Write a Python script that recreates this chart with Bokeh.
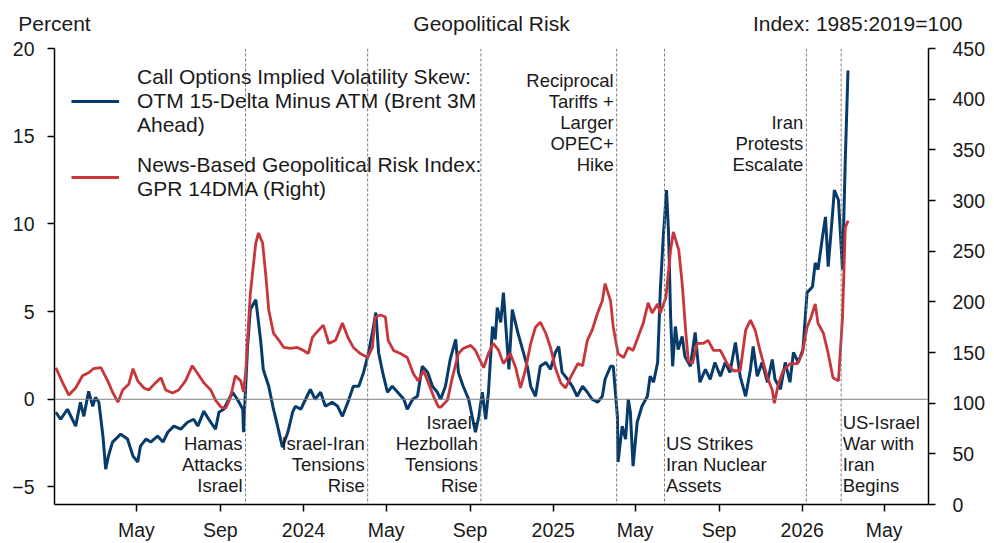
import pandas as pd
from bokeh.plotting import figure
from bokeh.models import (Range1d, LinearAxis, FixedTicker, Span, Label,
                          Legend, LegendItem, ColumnDataSource)
from bokeh.embed import file_html
from bokeh.resources import INLINE

BASE = pd.Timestamp("2023-01-01")

# Call options implied volatility skew (percent), x = days since 2023-01-01
skew_days = [2, 9, 19, 31, 38, 43, 50, 56, 60, 65, 71, 75, 79, 85, 97, 107, 115, 122, 126, 134,
             141, 151, 159, 166, 175, 185, 195, 204, 210, 219, 226, 236, 241, 248, 261, 268, 276, 277,
             283, 287, 295, 298, 302, 306, 314, 320, 327, 334, 342, 349, 353, 361, 368, 375, 382, 390,
             397, 407, 415, 422, 430, 438, 446, 453, 459, 466, 471, 475, 481, 488, 495, 503, 512, 517,
             525, 532, 539, 547, 554, 561, 566, 573, 580, 588, 592, 599, 607, 613, 617, 622, 627, 632,
             636, 642, 646, 649, 654, 658, 666, 671, 679, 686, 693, 698, 705, 712, 720, 727, 734, 739,
             744, 752, 759, 766, 774, 781, 788, 796, 803, 807, 815, 819, 825, 826, 832, 837, 841, 844,
             848, 854, 861, 869, 873, 878, 884, 888, 892, 897, 900, 903, 906, 910, 914, 920, 924, 932,
             939, 946, 954, 961, 968, 976, 983, 990, 998, 1005, 1013, 1020, 1024, 1030, 1037, 1045,
             1052, 1056, 1064, 1071, 1078, 1083, 1090, 1097, 1103, 1111, 1115, 1119, 1125, 1130, 1134,
             1140, 1143, 1149, 1155, 1159, 1163]
skew_vals = [-0.74, -1.14, -0.57, -1.53, -0.17, -0.97, 0.45, -0.40, 0.11, -0.17, -2.10, -3.98, -3.24,
             -2.44, -1.99, -2.27, -3.24, -3.58, -2.67, -2.27, -2.44, -2.10, -2.44, -1.88, -1.53, -1.70,
             -1.31, -1.14, -1.53, -0.68, -1.14, -1.70, -0.74, -0.57, 0.40, 0.00, -0.57, -1.88, 3.01,
             5.11, 5.68, 4.72, 3.41, 1.70, 0.74, -0.40, -1.53, -2.73, -1.88, -0.74, -0.40, -0.57, 0.00,
             0.57, 0.00, 0.40, -0.40, -0.17, -0.40, -0.97, -0.17, 0.74, 0.74, 1.53, 2.44, 3.81, 4.94,
             2.67, 1.53, 0.40, 0.74, 0.40, 0.00, -0.57, 0.00, 0.17, 1.88, 1.53, 0.74, 0.40, 0.00, 0.74,
             2.27, 3.41, 1.53, 0.74, 0.00, -1.14, -1.88, -0.97, 0.40, -1.14, 0.40, 4.15, 3.41, 5.23,
             4.38, 6.08, 1.70, 5.11, 3.81, 2.84, 1.88, 0.74, 0.17, 1.88, 2.10, 1.70, 2.67, 3.01, 1.53,
             1.14, 0.74, 0.17, 0.74, 0.40, 0.00, -0.17, 0.17, 1.14, 1.88, 1.88, -0.97, -3.58, -1.53,
             -2.27, 0.00, -0.74, -3.81, -1.31, -0.40, 0.17, 1.31, 0.97, 2.10, 6.25, 9.09, 11.93, 9.49,
             4.72, 1.88, 4.15, 2.84, 3.58, 2.44, 1.88, 3.81, 0.97, 1.70, 1.14, 2.10, 1.31, 2.10, 1.53,
             3.24, 1.31, 0.17, 1.70, 3.01, 1.31, 2.10, 0.97, 2.27, 1.14, 0.57, 2.10, 0.97, 2.67, 2.10,
             2.84, 6.08, 6.42, 7.78, 7.39, 9.09, 10.40, 7.56, 10.40, 11.93, 11.36, 7.39, 13.6, 18.75]

# News-based geopolitical risk index, GPR 14DMA (right axis), x = days since 2023-01-01
gpr_days = [2, 12, 21, 31, 41, 50, 57, 68, 78, 85, 93, 100, 109, 115, 122, 131, 138, 148, 156, 163,
            173, 182, 192, 202, 210, 219, 229, 236, 244, 251, 258, 265, 273, 277, 280, 287, 295, 299,
            305, 310, 314, 321, 329, 336, 346, 356, 365, 372, 378, 387, 394, 402, 412, 422, 430, 438,
            448, 459, 466, 470, 478, 485, 489, 497, 507, 517, 526, 533, 541, 548, 556, 563, 566, 576,
            583, 592, 599, 610, 617, 624, 629, 636, 643, 651, 658, 668, 676, 683, 690, 698, 705, 712,
            720, 727, 734, 742, 749, 756, 767, 774, 781, 788, 796, 803, 807, 815, 819, 826, 834, 841,
            848, 859, 863, 870, 876, 884, 888, 896, 903, 907, 915, 920, 925, 929, 935, 942, 951, 958,
            966, 976, 986, 995, 1005, 1013, 1020, 1027, 1034, 1045, 1052, 1055, 1061, 1068, 1078,
            1089, 1096, 1103, 1109, 1115, 1119, 1127, 1134, 1141, 1149, 1155, 1159, 1163]
gpr_vals = [135, 120, 108, 115, 127, 130, 134, 135, 122, 111, 101, 113, 119, 134, 122, 115, 113, 120,
            125, 113, 110, 113, 122, 137, 129, 120, 113, 103, 96, 95, 106, 127, 122, 111, 129, 208,
            258, 268, 258, 224, 192, 169, 162, 155, 154, 155, 152, 149, 165, 172, 177, 159, 162, 179,
            165, 155, 149, 145, 155, 185, 187, 185, 162, 152, 149, 145, 129, 122, 132, 120, 106, 96,
            96, 103, 125, 149, 154, 157, 152, 142, 135, 149, 159, 152, 139, 149, 135, 115, 132, 159,
            175, 180, 169, 155, 135, 120, 115, 125, 139, 137, 162, 172, 189, 201, 218, 201, 175, 149,
            145, 155, 152, 172, 179, 199, 189, 198, 189, 204, 251, 269, 251, 218, 172, 142, 139, 159,
            159, 162, 152, 152, 139, 132, 132, 172, 182, 172, 152, 125, 113, 100, 119, 132, 139, 139,
            149, 175, 185, 198, 179, 169, 149, 125, 122, 185, 273, 280]

event_dates = ["2023-10-08", "2024-04-04", "2024-09-17", "2025-04-04", "2025-06-13",
               "2026-01-07", "2026-02-27"]
event_labels = ["Hamas\nAttacks\nIsrael", "Israel-Iran\nTensions\nRise",
                "Israel-\nHezbollah\nTensions\nRise", "Reciprocal\nTariffs +\nLarger\nOPEC+\nHike",
                "US Strikes\nIran Nuclear\nAssets", "Iran\nProtests\nEscalate",
                "US-Israel\nWar with\nIran\nBegins"]
event_side = ["left", "left", "left", "left", "right", "left", "right"]
event_vpos = ["bottom", "bottom", "bottom", "top", "bottom", "top2", "bottom"]

tick_dates = ["2023-05-01", "2023-09-01", "2024-01-01", "2024-05-01", "2024-09-01",
              "2025-01-01", "2025-05-01", "2025-09-01", "2026-01-01", "2026-05-01"]
tick_labels = ["May", "Sep", "2024", "May", "Sep", "2025", "May", "Sep", "2026", "May"]
left_ticks = [-5, 0, 5, 10, 15, 20]
right_ticks = [0, 50, 100, 150, 200, 250, 300, 350, 400, 450]

header_texts = ["Percent", "Geopolitical Risk", "Index: 1985:2019=100"]
header_pos = [0.0, 0.5, 0.919]   # fraction of plot width (text centres)

BLUE = "#073B6C"
RED = "#C8353A"
FONT = "Liberation Sans"
TXT = "#1a1a1a"

skew_src = ColumnDataSource(dict(date=BASE + pd.to_timedelta(skew_days, unit="D"), v=skew_vals))
gpr_src = ColumnDataSource(dict(date=BASE + pd.to_timedelta(gpr_days, unit="D"), v=gpr_vals))

p = figure(width=994, height=543, x_axis_type="datetime", output_backend="svg",
           toolbar_location=None, title=None,
           x_range=Range1d(pd.Timestamp("2023-01-01"), pd.Timestamp("2026-07-05")),
           y_range=Range1d(-6, 20),
           min_border_left=54, min_border_right=66, min_border_top=48, min_border_bottom=38)
p.extra_y_ranges = {"gpr": Range1d(0, 450)}
p.extra_x_ranges = {"head": Range1d(0, 1)}
p.outline_line_color = None
p.grid.visible = False

p.add_layout(Span(location=0, dimension="width", line_color="#808080", line_width=1))
for d in event_dates:
    p.add_layout(Span(location=pd.Timestamp(d), dimension="height", line_color="#7a7a7a",
                      line_width=1, line_dash="3 2"))

r_blue = p.line("date", "v", source=skew_src, line_color=BLUE, line_width=3)
r_red = p.line("date", "v", source=gpr_src, line_color=RED, line_width=2.8, y_range_name="gpr")


def style_axis(ax):
    ax.axis_line_color = "black"
    ax.axis_line_width = 1.5
    ax.major_tick_line_color = "black"
    ax.major_tick_line_width = 1.5
    ax.major_tick_out = 7
    ax.major_tick_in = 0
    ax.minor_tick_out = 0
    ax.minor_tick_in = 0
    ax.major_label_text_font = FONT
    ax.major_label_text_font_size = "19.5px"
    ax.major_label_text_color = TXT


xax = p.xaxis[0]
xax.ticker = FixedTicker(ticks=[pd.Timestamp(t).value / 1e6 for t in tick_dates])
xax.major_label_overrides = {pd.Timestamp(t).value / 1e6: l for t, l in zip(tick_dates, tick_labels)}
style_axis(xax)
xax.major_label_standoff = 7

yax = p.yaxis[0]
yax.ticker = FixedTicker(ticks=left_ticks)
yax.major_label_overrides = {t: ("\u2212" + str(-t) if t < 0 else str(t)) for t in left_ticks}
style_axis(yax)
yax.major_label_standoff = 13

rax = LinearAxis(y_range_name="gpr", ticker=FixedTicker(ticks=right_ticks))
style_axis(rax)
rax.major_label_standoff = 17
p.add_layout(rax, "right")

# header row: unit labels and title, drawn as labels of a bare axis above the plot
hax = LinearAxis(x_range_name="head", ticker=FixedTicker(ticks=header_pos),
                 major_label_overrides={k: t for k, t in zip(header_pos, header_texts)})
hax.axis_line_color = None
hax.major_tick_line_color = None
hax.minor_tick_line_color = None
hax.major_tick_out = 0
hax.major_tick_in = 0
hax.minor_tick_out = 0
hax.major_label_standoff = 14
hax.major_label_text_font = FONT
hax.major_label_text_font_size = "21px"
hax.major_label_text_color = TXT
p.add_layout(hax, "above")

FRAME_H = 457
for d, lab, side, vpos in zip(event_dates, event_labels, event_side, event_vpos):
    if vpos == "bottom":
        y, base = 9, "bottom"
    elif vpos == "top":
        y, base = FRAME_H - 22, "top"
    else:
        y, base = FRAME_H - 64, "top"
    p.add_layout(Label(x=pd.Timestamp(d), y=y, y_units="screen", text=lab,
                       x_offset=(-3 if side == "left" else 1.5),
                       text_align=("right" if side == "left" else "left"), text_baseline=base,
                       text_font=FONT, text_font_size="18.5px", text_color=TXT,
                       text_line_height=1.0))

legend = Legend(items=[
    LegendItem(label="Call Options Implied Volatility Skew:\nOTM 15-Delta Minus ATM (Brent 3M\nAhead)",
               renderers=[r_blue]),
    LegendItem(label="News-Based Geopolitical Risk Index:\nGPR 14DMA (Right)", renderers=[r_red]),
], location="top_left")
legend.margin = 2
legend.padding = 15
legend.glyph_width = 48
legend.label_standoff = 18
legend.spacing = 16
legend.border_line_alpha = 0
legend.background_fill_alpha = 0
legend.label_text_font = FONT
legend.label_text_font_size = "21px"
legend.label_text_color = TXT
legend.label_text_line_height = 0.98
p.add_layout(legend)

open("out.html", "w").write(file_html(p, INLINE))
